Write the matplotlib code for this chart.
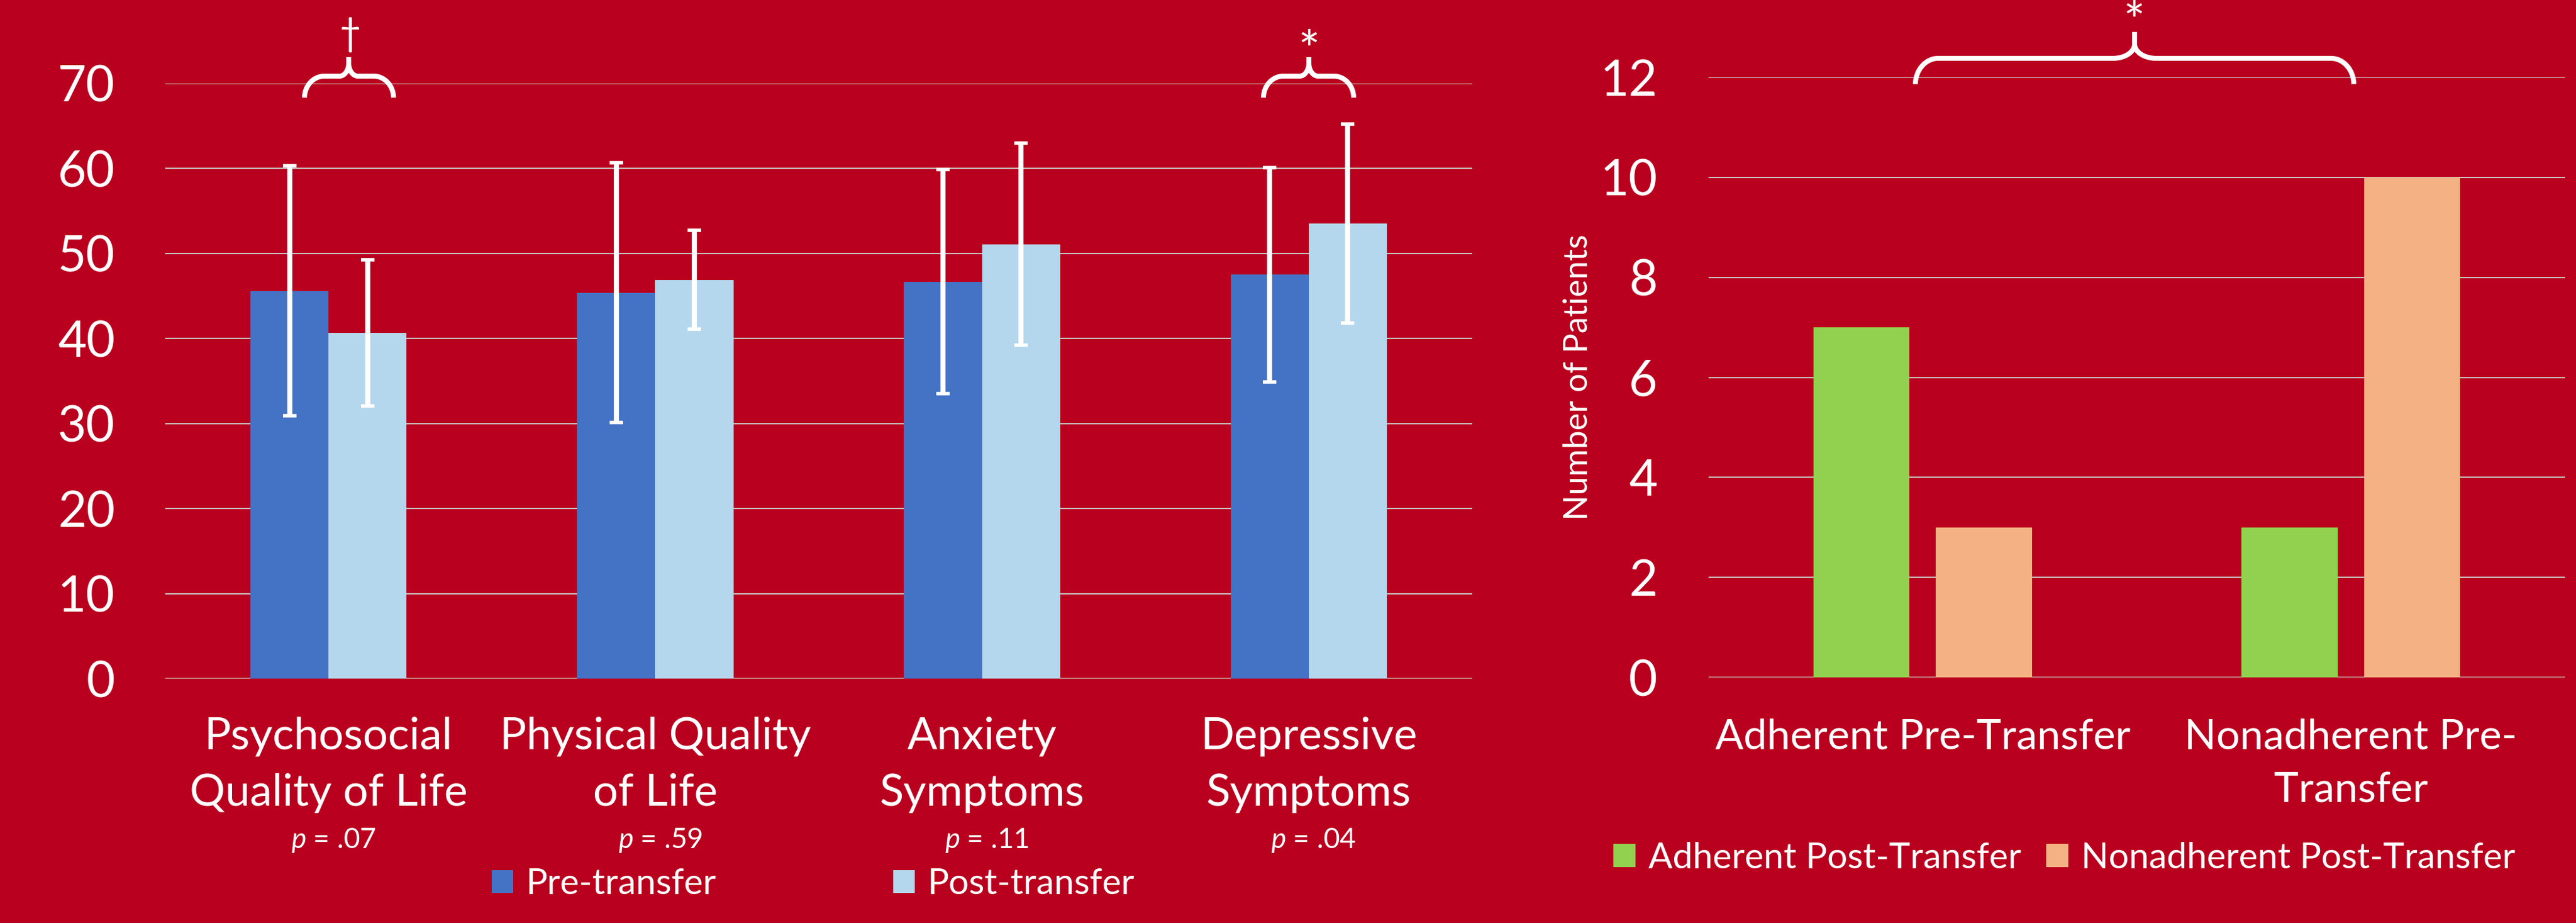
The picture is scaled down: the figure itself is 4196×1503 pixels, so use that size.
import matplotlib
matplotlib.use("Agg")
import matplotlib.pyplot as plt
from matplotlib.patches import Patch, PathPatch
from matplotlib.path import Path
import numpy as np

# ---------------- data ----------------
left_categories = ["Psychosocial\nQuality of Life", "Physical Quality\nof Life",
                   "Anxiety\nSymptoms", "Depressive\nSymptoms"]
p_labels = ["$p$ = .07", "$p$ = .59", "$p$ = .11", "$p$ = .04"]
pre_means = [45.6, 45.4, 46.7, 47.5]
pre_err = [14.7, 15.3, 13.2, 12.6]
post_means = [40.7, 46.9, 51.1, 53.5]
post_err = [8.6, 5.8, 11.9, 11.7]
left_series = ["Pre-transfer", "Post-transfer"]
left_yticks = [0, 10, 20, 30, 40, 50, 60, 70]

right_categories = ["Adherent Pre-Transfer", "Nonadherent Pre-\nTransfer"]
adherent_post = [7, 3]
nonadherent_post = [3, 10]
right_series = ["Adherent Post-Transfer", "Nonadherent Post-Transfer"]
right_yticks = [0, 2, 4, 6, 8, 10, 12]
right_ylabel = "Number of Patients"

# ---------------- style ----------------
BG = "#B9001E"
BLUE = "#4472C4"
LBLUE = "#B4D7ED"
GREEN = "#92D050"
ORANGE = "#F4B183"
GRID = "#C8C8C8"
W, H = 4196, 1503

plt.rcParams["font.family"] = ["Lato", "DejaVu Sans"]
plt.rcParams["mathtext.fontset"] = "custom"
plt.rcParams["mathtext.rm"] = "Lato"
plt.rcParams["mathtext.it"] = "Lato:italic"

fig = plt.figure(figsize=(W / 100, H / 100), dpi=100, facecolor=BG)


def fx(px):
    return px / W


def fy(py):
    return 1 - py / H


# ---------------- left chart ----------------
ax1 = fig.add_axes([fx(269), fy(1105), fx(2398) - fx(269), fy(136) - fy(1105)])
ax1.set_facecolor(BG)
x = np.arange(len(left_categories))
bw = 0.239
ax1.bar(x - bw / 2, pre_means, bw, color=BLUE, zorder=2)
ax1.bar(x + bw / 2, post_means, bw, color=LBLUE, zorder=2)
ekw = dict(fmt="none", ecolor="white", elinewidth=6, capsize=8, capthick=4, zorder=3)
ax1.errorbar(x - bw / 2, pre_means, yerr=pre_err, **ekw)
ax1.errorbar(x + bw / 2, post_means, yerr=post_err, **ekw)
ax1.set_xlim(-0.5, len(left_categories) - 0.5)
ax1.set_ylim(0, 70)
ax1.set_yticks(left_yticks)
ax1.set_xticks(x)
ax1.set_xticklabels(left_categories, fontsize=52, color="white", linespacing=1.5)
ax1.tick_params(axis="y", length=0, pad=59, labelsize=58, labelcolor="white")
ax1.tick_params(axis="x", length=0, pad=45)
ax1.yaxis.grid(True, color=GRID, linewidth=1.5, zorder=0)
ax1.set_axisbelow(True)
for s in ax1.spines.values():
    s.set_visible(False)
for i, lab in enumerate(p_labels):
    ax1.text(x[i] + 0.015, -0.285, lab, transform=ax1.get_xaxis_transform(), ha="center",
             va="baseline", fontsize=33, color="white")

# ---------------- right chart ----------------
ax2 = fig.add_axes([fx(2783), fy(1103), fx(4178) - fx(2783), fy(126) - fy(1103)])
ax2.set_facecolor(BG)
x2 = np.arange(len(right_categories))
bw2 = 0.225
off2 = 0.143
ax2.bar(x2 - off2, adherent_post, bw2, color=GREEN, zorder=2)
ax2.bar(x2 + off2, nonadherent_post, bw2, color=ORANGE, zorder=2)
ax2.set_xlim(-0.5, len(right_categories) - 0.5)
ax2.set_ylim(0, 12)
ax2.set_yticks(right_yticks)
ax2.set_xticks(x2)
ax2.set_xticklabels(right_categories, fontsize=49, color="white", linespacing=1.5)
ax2.tick_params(axis="y", length=0, pad=60, labelsize=58, labelcolor="white")
ax2.tick_params(axis="x", length=0, pad=48)
ax2.yaxis.grid(True, color=GRID, linewidth=1.5, zorder=0)
ax2.set_axisbelow(True)
for s in ax2.spines.values():
    s.set_visible(False)
ax2.set_ylabel(right_ylabel, fontsize=39, color="white", va="center")
ax2.yaxis.set_label_coords((2570 - 2783) / 1395, (1103 - 614) / 977)

# ---------------- legends ----------------
def one_legend(label, color, xpx, ypx, fs, hl):
    fig.legend(handles=[Patch(facecolor=color, edgecolor="none", label=label)],
               loc="center left", bbox_to_anchor=(fx(xpx), fy(ypx)), frameon=False,
               borderpad=0, borderaxespad=0, handlelength=hl, handleheight=hl,
               handletextpad=0.35, fontsize=fs, labelcolor="white")


one_legend(left_series[0], BLUE, 801, 1440, 42, 0.6)
one_legend(left_series[1], LBLUE, 1455, 1440, 42, 0.6)
one_legend(right_series[0], GREEN, 2628, 1397, 42, 0.62)
one_legend(right_series[1], ORANGE, 3333, 1397, 42, 0.62)


# ---------------- braces & significance marks ----------------
def brace(x0, x1, xc, y_line, y_end, y_neck, y_tip, rx, rxc, k=0.55):
    verts, codes = [], []
    for xe, sgn in ((x0, 1), (x1, -1)):
        pts = [
            (xe, y_end),
            (xe, y_end - k * (y_end - y_line)),
            (xe + sgn * (1 - k) * rx, y_line),
            (xe + sgn * rx, y_line),
            (xc - sgn * rxc, y_line),
            (xc - sgn * (1 - k) * rxc, y_line),
            (xc, y_neck + k * (y_line - y_neck)),
            (xc, y_neck),
            (xc, y_tip),
        ]
        verts += [(fx(a), fy(b)) for a, b in pts]
        codes += [Path.MOVETO, Path.CURVE4, Path.CURVE4, Path.CURVE4, Path.LINETO,
                  Path.CURVE4, Path.CURVE4, Path.CURVE4, Path.LINETO]
    patch = PathPatch(Path(verts, codes), transform=fig.transFigure, fill=False,
                      edgecolor="white", linewidth=5.8, capstyle="butt", joinstyle="round")
    fig.patches.append(patch)


brace(496, 641, 568, 124, 159, 103, 93, 32, 15)
brace(2058, 2205, 2132, 124, 159, 103, 93, 32, 15)
brace(3120, 3834, 3477, 95, 137, 72, 52, 37, 35)

fig.text(fx(570), fy(56), "\u2020", ha="center", va="center", fontsize=44, color="white")
fig.text(fx(2133), fy(87), "*", ha="center", va="center", fontsize=60, color="white")
fig.text(fx(3477), fy(40), "*", ha="center", va="center", fontsize=60, color="white")

fig.savefig("out.png", dpi=100, facecolor=BG)
